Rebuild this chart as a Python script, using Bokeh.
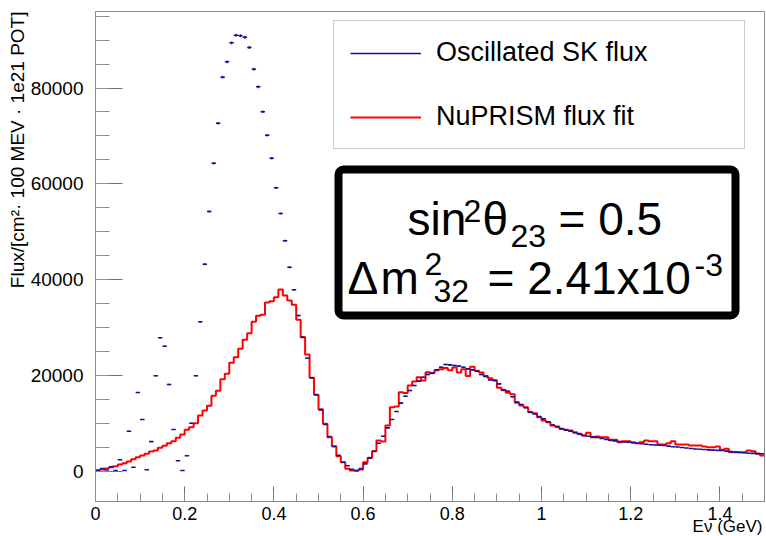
import numpy as np
from bokeh.plotting import figure
from bokeh.models import (Range1d, FixedTicker, Label, Legend, LegendItem, Title,
                          BoxAnnotation, ColumnDataSource, NumeralTickFormatter,
                          BasicTickFormatter)
from bokeh.embed import file_html
from bokeh.resources import INLINE

# ---------------- data ----------------
bin_width = 0.01          # GeV
n_bins = 150

sk_flux = [
    150, 520, 200, 880, 100, 2340, 100, 8310, 790, 16400,
    10760, 250, 6130, 19890, 27830, 26070, 18070, 8670, 2130, 100,
    3180, 9990, 19890, 31170, 43200, 54210, 64300, 72650, 82260, 85480,
    89450, 91040, 90910, 90620, 88470, 83940, 80260, 75040, 70150, 65340,
    59160, 53790, 48090, 42570, 37850, 32480, 27950, 23560, 19470, 15920,
    12780, 9710, 7210, 5120, 3300, 1840, 1090, 380, 100, 520,
    1500, 2670, 4140, 5810, 7270, 9020, 10760, 12430, 14170, 15630,
    16810, 17860, 18770, 19590, 20160, 20440, 21130, 21690, 22250, 22180,
    22040, 21900, 21690, 21340, 21130, 20850, 20160, 19740, 19040, 18910,
    18210, 16950, 16670, 15500, 14380, 13900, 13200, 12290, 11900, 11400,
    10900, 10300, 9600, 9200, 8810, 8550, 8320, 8000, 7700, 7410,
    7250, 7120, 7000, 6800, 6600, 6400, 6300, 6150, 6050, 6000,
    5900, 5810, 5700, 5600, 5500, 5420, 5380, 5330, 5200, 5080,
    5000, 4900, 4800, 4700, 4600, 4540, 4480, 4420, 4370, 4320,
    4280, 4150, 4050, 3950, 3880, 3800, 3720, 3680, 3630, 3590,
]

nuprism_fit = [
    100, 310, 520, 800, 1010, 1360, 1640, 1980, 2470, 2890,
    3240, 3590, 4070, 4280, 4840, 5260, 5810, 6230, 6930, 7630,
    8600, 9160, 9990, 11590, 12640, 13610, 15700, 16750, 19180, 20300,
    22600, 23780, 25520, 27400, 28790, 31160, 32410, 32620, 35200, 35480,
    36310, 37910, 36660, 35620, 34710, 31580, 27960, 24340, 19460, 15910,
    12920, 9860, 7070, 5190, 3100, 1850, 450, 100, 50, 310,
    1850, 2750, 4140, 6370, 6160, 9500, 13330, 13470, 16470, 16300,
    17860, 18700, 19600, 18900, 20650, 20440, 21070, 21280, 21500, 21070,
    21630, 20580, 21280, 19870, 21780, 20930, 20580, 19870, 19380, 18960,
    17410, 16850, 16360, 16010, 14250, 13680, 13330, 12290, 12080, 11250,
    10550, 10200, 9500, 9290, 8810, 8600, 8460, 8110, 7760, 7420,
    7970, 7070, 7210, 7070, 7070, 6510, 6510, 6020, 6230, 6230,
    6020, 5810, 6000, 6370, 6230, 6230, 5540, 5540, 5810, 6230,
    5540, 5540, 5540, 5330, 5330, 5330, 5120, 4980, 4980, 5120,
    4420, 4630, 3930, 3930, 3930, 3930, 4280, 4140, 3590, 3240,
]

x_ticks = [0, 0.2, 0.4, 0.6, 0.8, 1, 1.2, 1.4]
y_ticks = [0, 20000, 40000, 60000, 80000]
legend_labels = ["Oscillated SK flux", "NuPRISM flux fit"]
y_title = "Flux/[cm²· 100 MEV · 1e21 POT]"
x_title = "Eν (GeV)"

# ---------------- geometry ----------------
X_MIN, X_MAX = 0.0, 1.5
Y_MIN, Y_MAX = -6370, 95990
W, H = 766, 536
MB_L, MB_R, MB_T, MB_B = 95, 2, 11, 35
FL, FR = MB_L, W - MB_R       # canvas x of frame edges
FT, FB = MB_T, H - MB_B       # canvas y of frame edges

def dx(px):
    return X_MIN + (px - FL) / (FR - FL) * (X_MAX - X_MIN)

def dy(py):
    return Y_MAX - (py - FT) / (FB - FT) * (Y_MAX - Y_MIN)

FONT = "Liberation Sans"

p = figure(width=W, height=H, x_range=Range1d(X_MIN, X_MAX),
           y_range=Range1d(Y_MIN, Y_MAX), output_backend="svg",
           toolbar_location=None, min_border_left=MB_L, min_border_right=MB_R,
           min_border_top=MB_T, min_border_bottom=MB_B)
p.xgrid.visible = False
p.ygrid.visible = False
p.outline_line_color = "#8c8c8c"
p.outline_line_width = 1
p.background_fill_color = "white"
p.border_fill_color = "white"

# axes
p.xaxis.ticker = FixedTicker(ticks=x_ticks,
                             minor_ticks=[round(0.05 * k, 2) for k in range(31)])
p.xaxis.formatter = NumeralTickFormatter(format="0.[0]")
p.yaxis.ticker = FixedTicker(ticks=y_ticks,
                             minor_ticks=[5000 * k for k in range(20)])
p.yaxis.formatter = BasicTickFormatter(use_scientific=False)
for ax in (p.xaxis, p.yaxis):
    ax.axis_line_color = "#8c8c8c"
    ax.major_tick_line_color = "#707070"
    ax.minor_tick_line_color = "#8c8c8c"
    ax.major_tick_out = 0
    ax.minor_tick_out = 0
    ax.major_label_text_font = FONT
    ax.major_label_text_color = "black"
p.xaxis.major_tick_in = 15
p.xaxis.minor_tick_in = 8
p.xaxis.major_label_standoff = 5
p.xaxis.major_label_text_font_size = "18px"
p.yaxis.major_tick_in = 27
p.yaxis.minor_tick_in = 14
p.yaxis.major_label_standoff = 12
p.yaxis.major_label_text_font_size = "19px"

# y-axis title, aligned to the top end of the axis
p.add_layout(Title(text=y_title, align="right", text_font=FONT,
                   text_font_size="19px", text_font_style="normal",
                   text_color="black", standoff=0, offset=0), "left")
# x-axis title, aligned to the right end of the axis
p.add_layout(Title(text=x_title, align="right", vertical_align="top",
                   text_font=FONT, text_font_size="17px",
                   text_font_style="normal", text_color="black",
                   standoff=-11, offset=2), "below")

# ---------------- data drawing ----------------
edges = np.arange(n_bins + 1) * bin_width
centers = edges[:-1] + bin_width / 2
sk = np.array(sk_flux, dtype=float)
err = np.sqrt(sk)

r_fit = p.step(x=edges, y=list(nuprism_fit) + [nuprism_fit[-1]], mode="after",
               line_color="#ff0000", line_width=2)

src = ColumnDataSource(dict(x0=edges[:-1], x1=edges[1:], y=sk, xc=centers,
                            lo=sk - err, hi=sk + err))
blue = "#12129c"
r_sk = p.segment(x0="x0", y0="y", x1="x1", y1="y", source=src,
                 line_color=blue, line_width=1.6)
p.segment(x0="xc", y0="lo", x1="xc", y1="hi", source=src,
          line_color=blue, line_width=1.4)

# ---------------- legend ----------------
legend = Legend(items=[LegendItem(label=legend_labels[0], renderers=[r_sk]),
                       LegendItem(label=legend_labels[1], renderers=[r_fit])],
                location=(333 - FL, FB - 149), margin=0, padding=16,
                spacing=33, label_height=30, glyph_height=30, glyph_width=71,
                label_standoff=15, label_width=292,
                label_text_font=FONT, label_text_font_size="27px",
                label_text_color="black",
                border_line_color="#999999", border_line_width=1,
                background_fill_color="white", background_fill_alpha=1)
p.add_layout(legend)

# ---------------- boxed oscillation parameters ----------------
box = BoxAnnotation(left=dx(338), right=dx(735), top=dy(169), bottom=dy(315),
                    fill_color="white", fill_alpha=1, line_color="black",
                    line_alpha=1, line_width=8, border_radius=5)
p.add_layout(box)

def put(text, size, px, py):
    # py is the wanted baseline (canvas px); compensate the renderer's shift
    p.add_layout(Label(x=dx(px), y=dy(py - 0.33 * size), text=text,
                       text_font=FONT, text_font_size=f"{size}px",
                       text_color="black", text_baseline="alphabetic",
                       text_align="left"))

# line 1: sin^2 theta_23 = 0.5
put("sin", 46, 407, 234)
put("2", 32, 463, 221)
put("θ", 46, 482, 234)
put("23", 32, 510, 246)
put("= 0.5", 46, 558, 234)
# line 2: Delta m^2_32 = 2.41x10^-3
put("Δ", 46, 347, 293)
put("m", 46, 380, 293)
put("2", 32, 424, 274)
put("32", 32, 433, 301)
put("= 2.41x10", 46, 487, 293)
put("-3", 32, 694, 275)

open("out.html", "w").write(file_html(p, INLINE))
